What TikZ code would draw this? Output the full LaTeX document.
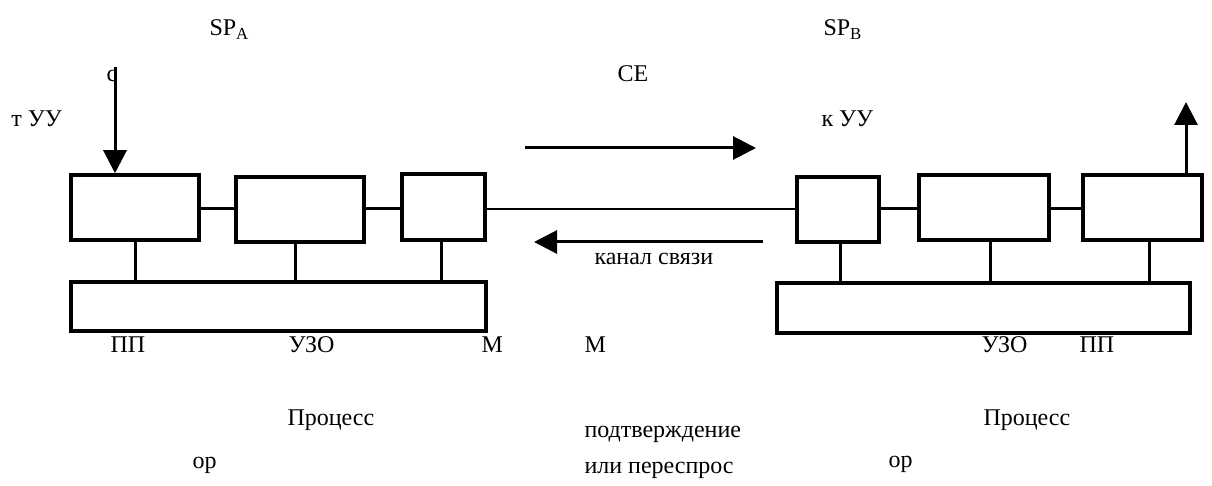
\documentclass[tikz,border=0pt]{standalone}
\usepackage{fontspec}
\setmainfont{Liberation Serif}
\usepackage{tikz}
\usetikzlibrary{positioning}
\usetikzlibrary{arrows.meta}
\usetikzlibrary{calc}
\usetikzlibrary{math}

\tikzset{
  blk/.style={draw, line width=3.5pt, inner sep=0pt, minimum height=65pt},
  lbl/.style={anchor=base west, inner sep=0pt, font=\fontsize{24}{29}\selectfont},
  arr/.style={line width=3pt, -{Triangle[length=23pt,width=23pt]}},
}

\begin{document}
\begin{tikzpicture}[x=1pt,y=-1pt,line width=3pt]

  \tikzmath{
    \lineY = 209; % height of the channel line
  }

  \useasboundingbox (0,0) rectangle (1212,486);

  % Station A: blocks and common bus
  \node[blk, minimum width=128pt] (a1) at (135,207.5) {};
  \node[blk, minimum width=128pt] (a2) at (300,209.5) {};
  \node[blk, minimum width=83pt, minimum height=66pt] (a3) at (443.5,207) {};
  \node[blk, minimum width=415pt, minimum height=49pt] (busA) at (278.5,306.5) {};

  % Station B: blocks and common bus
  \node[blk, minimum width=82pt] (b1) at (838,209.5) {};
  \node[blk, minimum width=130pt] (b2) at (984,207.5) {};
  \node[blk, minimum width=119pt] (b3) at (1142.5,207.5) {};
  \node[blk, minimum width=413pt, minimum height=50pt] (busB) at (983.5,308) {};

  % Links between the blocks, all at the height of the channel
  \coordinate (line) at (0,\lineY);
  \draw (a1.east |- line) -- (a2.west |- line);
  \draw (a2.east |- line) -- (a3.west |- line);
  \draw (b1.east |- line) -- (b2.west |- line);
  \draw (b2.east |- line) -- (b3.west |- line);
  \draw[line width=2.5pt] (a3.east |- line) -- (b1.west |- line);

  % Links from the blocks to the bus
  \draw (a1.south) -- (a1.south |- busA.north);
  \draw ($(a2.south)+(-5,0)$) -- ($(a2.south |- busA.north)+(-5,0)$);
  \draw ($(a3.south)+(-2,0)$) -- ($(a3.south |- busA.north)+(-2,0)$);
  \draw ($(b1.south)+(2,0)$) -- ($(b1.south |- busB.north)+(2,0)$);
  \draw ($(b2.south)+(6,0)$) -- ($(b2.south |- busB.north)+(6,0)$);
  \draw ($(b3.south)+(7,0)$) -- ($(b3.south |- busB.north)+(7,0)$);

  % Texts
  \node[lbl] (spA) at (208,36) {SP\textsubscript{A}};
  \node[lbl] (spB) at (822,36) {SP\textsubscript{B}};
  \node[lbl] (from) at (105,82) {с};
  \node[lbl] (fromUU) at (10,127) {т УУ};
  \node[lbl] (ce) at (616,82) {СЕ};
  \node[lbl] (toUU) at (820,127) {к УУ};
  \node[lbl] (chan) at (593,265) {канал связи};
  \node[lbl] (ppA) at (109,352) {ПП};
  \node[lbl] (uzoA) at (287,352) {УЗО};
  \node[lbl] (mA) at (480,352) {М};
  \node[lbl] (mB) at (583,352) {М};
  \node[lbl] (uzoB) at (980,352) {УЗО};
  \node[lbl] (ppB) at (1078,352) {ПП};
  \node[lbl] (procA) at (286,425) {Процесс};
  \node[lbl] (procB) at (982,425) {Процесс};
  \node[lbl] (orA) at (191,468) {ор};
  \node[lbl] (orB) at (887,467) {ор};
  \node[lbl] (ack) at (583,437) {подтверждение};
  \node[lbl] (nak) at (583,473) {или переспрос};

  % Arrows
  \coordinate (inTop) at (115,67);
  \coordinate (outTop) at (1186,102);
  \coordinate (fwdL) at (525,148);
  \coordinate (fwdR) at (756,148);
  \coordinate (backR) at (763,242);
  \coordinate (backL) at (534,242);

  \draw[arr] (inTop) -- (inTop |- a1.north);
  \draw[arr] (outTop |- b3.north) -- (outTop);
  \draw[arr] (fwdL) -- (fwdR);
  \draw[arr] (backR) -- (backL);

\end{tikzpicture}
\end{document}
